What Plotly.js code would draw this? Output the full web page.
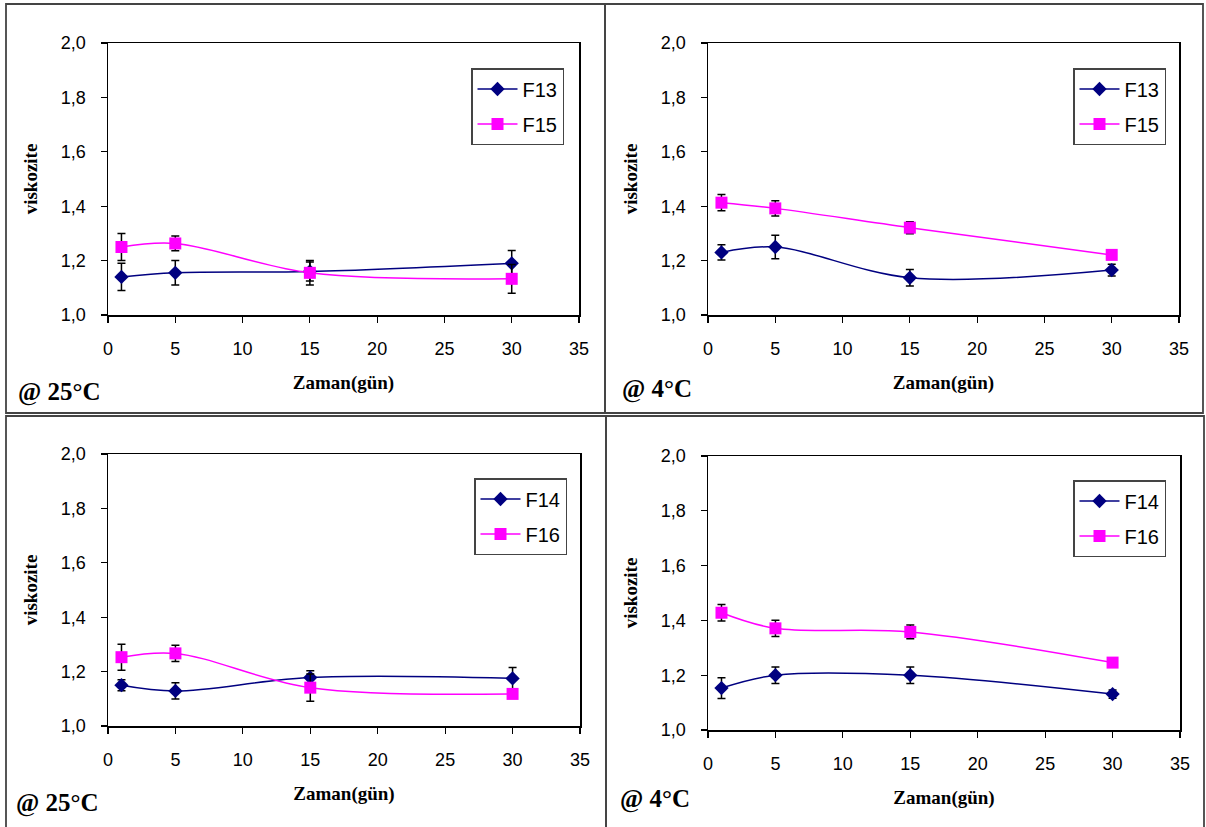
<!DOCTYPE html>
<html>
<head>
<meta charset="utf-8">
<script src="https://cdn.plot.ly/plotly-3.0.1.min.js"></script>
<style>html,body{margin:0;padding:0;background:#fff;}#chart{width:1206px;height:827px;}</style>
</head>
<body>
<div id="chart"></div>
<script>
// ---- data ----
const days = [1, 5, 15, 30];
const xTicks = [0, 5, 10, 15, 20, 25, 30, 35];
const yTicks = [1.0, 1.2, 1.4, 1.6, 1.8, 2.0];

const F13_25 = [1.14, 1.155, 1.16, 1.19];
const F13_25_err = [0.05, 0.045, 0.035, 0.047];
const F15_25 = [1.25, 1.263, 1.155, 1.133];
const F15_25_err = [0.05, 0.027, 0.045, 0.053];

const F13_4 = [1.23, 1.25, 1.137, 1.165];
const F13_4_err = [0.028, 0.043, 0.03, 0.022];
const F15_4 = [1.413, 1.392, 1.321, 1.221];
const F15_4_err = [0.03, 0.028, 0.022, 0.015];

const F14_25 = [1.15, 1.129, 1.178, 1.175];
const F14_25_err = [0.02, 0.03, 0.025, 0.04];
const F16_25 = [1.253, 1.267, 1.141, 1.118];
const F16_25_err = [0.048, 0.03, 0.05, 0.015];

const F14_4 = [1.153, 1.20, 1.20, 1.131];
const F14_4_err = [0.038, 0.03, 0.03, 0.015];
const F16_4 = [1.428, 1.371, 1.358, 1.246];
const F16_4_err = [0.03, 0.03, 0.025, 0.015];

const panelLabels = ['@ 25\u00B0C', '@ 4\u00B0C', '@ 25\u00B0C', '@ 4\u00B0C'];
const xTitle = 'Zaman(gün)';
const yTitle = 'viskozite';

// ---- styles ----
const W = 1206, H = 827;
const navy = '#000080', magenta = '#FF00FF';
const px = v => v / W;
const py = v => 1 - v / H;

function series(name, y, err, ax, legend, kind) {
  const isA = kind === 'a';
  return {
    type: 'scatter', mode: 'lines+markers', name: name,
    x: days, y: y,
    xaxis: 'x' + ax, yaxis: 'y' + ax,
    legend: legend, legendgroup: name + legend,
    line: {color: isA ? navy : magenta, width: 1.5, shape: 'spline', smoothing: 1},
    marker: {symbol: isA ? 'diamond' : 'square', size: isA ? 11 : 12, color: isA ? navy : magenta},
    error_y: {type: 'data', array: err, visible: true, color: '#000', thickness: 1.5, width: 4}
  };
}

const data = [
  series('F13', F13_25, F13_25_err, '', 'legend', 'a'),
  series('F15', F15_25, F15_25_err, '', 'legend', 'b'),
  series('F13', F13_4, F13_4_err, '2', 'legend2', 'a'),
  series('F15', F15_4, F15_4_err, '2', 'legend2', 'b'),
  series('F14', F14_25, F14_25_err, '3', 'legend3', 'a'),
  series('F16', F16_25, F16_25_err, '3', 'legend3', 'b'),
  series('F14', F14_4, F14_4_err, '4', 'legend4', 'a'),
  series('F16', F16_4, F16_4_err, '4', 'legend4', 'b')
];

const tickFont = {family: 'Liberation Sans, Arial, sans-serif', size: 18, color: '#000'};
const titleFont = {family: 'Liberation Serif, Times New Roman, serif', size: 19, color: '#000', weight: 'bold'};

function xa(domain, anchor) {
  return {
    domain: domain, anchor: anchor, range: [0, 35], tickvals: xTicks,
    showline: true, linecolor: '#000', linewidth: 1.5, mirror: true,
    ticks: 'outside', ticklen: 6, tickcolor: '#000', tickwidth: 1.2,
    ticklabelstandoff: 11,
    showgrid: false, zeroline: false, tickfont: tickFont,
    title: {text: xTitle, font: titleFont, standoff: 17}
  };
}
function ya(domain, anchor) {
  return {
    domain: domain, anchor: anchor, range: [1.0, 2.0], tickvals: yTicks, tickformat: '.1f',
    showline: true, linecolor: '#000', linewidth: 1.5, mirror: true,
    ticks: 'outside', ticklen: 6, tickcolor: '#000', tickwidth: 1.2,
    ticklabelstandoff: 11,
    showgrid: false, zeroline: false, tickfont: tickFont,
    title: {text: yTitle, font: titleFont, standoff: 18}
  };
}
function leg(x, y) {
  return {
    x: px(x), y: py(y), xanchor: 'left', yanchor: 'top',
    bgcolor: '#fff', bordercolor: '#444', borderwidth: 1.5,
    font: {family: 'Liberation Sans, Arial, sans-serif', size: 20, color: '#000'},
    tracegroupgap: 6, itemwidth: 40
  };
}
function box(x0, y0, x1, y1) {
  return {type: 'rect', xref: 'paper', yref: 'paper', x0: px(x0), x1: px(x1), y0: py(y1), y1: py(y0),
    line: {color: '#444', width: 1.8}, fillcolor: 'rgba(0,0,0,0)', layer: 'below'};
}
function lab(text, x, y) {
  return {text: text, xref: 'paper', yref: 'paper', x: px(x), y: py(y),
    xanchor: 'left', yanchor: 'middle', showarrow: false,
    font: {family: 'Liberation Serif, Times New Roman, serif', size: 25, color: '#000', weight: 'bold'}};
}

const layout = {
  width: W, height: H,
  margin: {l: 0, r: 0, t: 0, b: 0},
  paper_bgcolor: '#fff', plot_bgcolor: '#fff',
  separators: ', ',
  showlegend: true,
  xaxis: xa([px(108), px(579)], 'y'),
  yaxis: ya([py(315), py(43)], 'x'),
  xaxis2: xa([px(708), px(1179)], 'y2'),
  yaxis2: ya([py(315), py(43)], 'x2'),
  xaxis3: xa([px(108), px(580)], 'y3'),
  yaxis3: ya([py(726), py(454)], 'x3'),
  xaxis4: xa([px(708), px(1180)], 'y4'),
  yaxis4: ya([py(730), py(456)], 'x4'),
  legend: leg(471, 68),
  legend2: leg(1073, 68),
  legend3: leg(474, 478),
  legend4: leg(1073, 480),
  shapes: [
    box(6, 4, 605, 413),
    box(605, 4, 1203, 413),
    box(6, 416, 606, 830),
    box(606, 416, 1204, 830)
  ],
  annotations: [
    lab(panelLabels[0], 16, 392),
    lab(panelLabels[1], 620, 389),
    lab(panelLabels[2], 14, 803),
    lab(panelLabels[3], 618, 799)
  ]
};

Plotly.newPlot('chart', data, layout, {displayModeBar: false, staticPlot: true});
</script>
</body>
</html>
